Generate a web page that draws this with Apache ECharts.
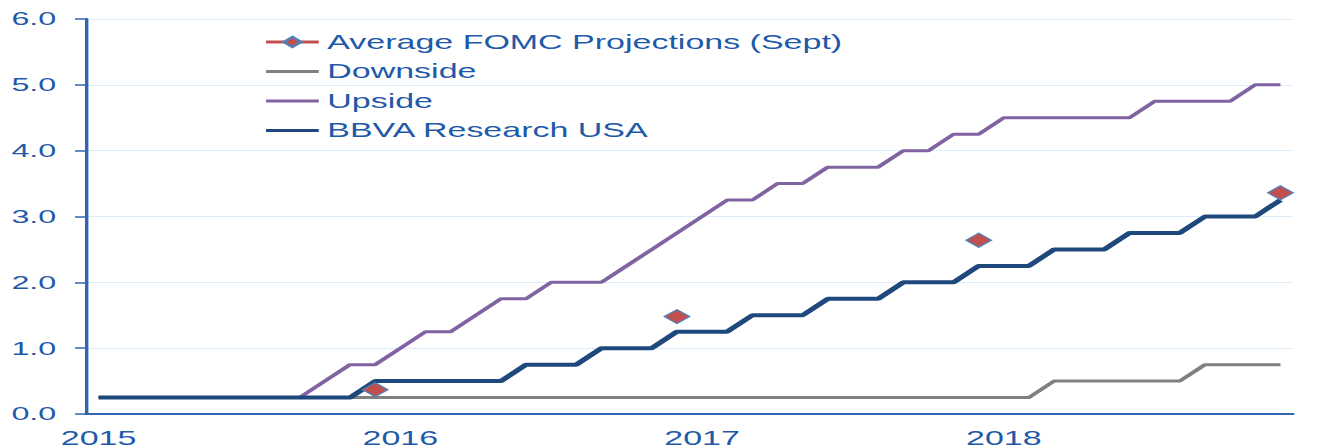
<!DOCTYPE html>
<html>
<head>
<meta charset="utf-8">
<script src="https://cdn.jsdelivr.net/npm/echarts@6/dist/echarts.min.js"></script>
<style>
  html, body { margin: 0; padding: 0; background: #fff; overflow: hidden; }
  /* the original picture is stretched sideways, so the chart is drawn narrow and widened */
  #chart { width: 787px; height: 448px; transform: scaleX(1.7); transform-origin: 0 0; }
</style>
</head>
<body>
<div id="chart"></div>
<script>
// monthly, Jan 2015 .. Dec 2018
const months = [];
for (let y = 2015; y <= 2018; y++) {
  for (let m = 1; m <= 12; m++) months.push(y + '-' + (m < 10 ? '0' + m : m));
}

const bbva = [
  0.25, 0.25, 0.25, 0.25, 0.25, 0.25, 0.25, 0.25, 0.25, 0.25, 0.25, 0.5,
  0.5, 0.5, 0.5, 0.5, 0.5, 0.75, 0.75, 0.75, 1.0, 1.0, 1.0, 1.25,
  1.25, 1.25, 1.5, 1.5, 1.5, 1.75, 1.75, 1.75, 2.0, 2.0, 2.0, 2.25,
  2.25, 2.25, 2.5, 2.5, 2.5, 2.75, 2.75, 2.75, 3.0, 3.0, 3.0, 3.25
];
const upside = [
  0.25, 0.25, 0.25, 0.25, 0.25, 0.25, 0.25, 0.25, 0.25, 0.5, 0.75, 0.75,
  1.0, 1.25, 1.25, 1.5, 1.75, 1.75, 2.0, 2.0, 2.0, 2.25, 2.5, 2.75,
  3.0, 3.25, 3.25, 3.5, 3.5, 3.75, 3.75, 3.75, 4.0, 4.0, 4.25, 4.25,
  4.5, 4.5, 4.5, 4.5, 4.5, 4.5, 4.75, 4.75, 4.75, 4.75, 5.0, 5.0
];
const downside = [
  0.25, 0.25, 0.25, 0.25, 0.25, 0.25, 0.25, 0.25, 0.25, 0.25, 0.25, 0.25,
  0.25, 0.25, 0.25, 0.25, 0.25, 0.25, 0.25, 0.25, 0.25, 0.25, 0.25, 0.25,
  0.25, 0.25, 0.25, 0.25, 0.25, 0.25, 0.25, 0.25, 0.25, 0.25, 0.25, 0.25,
  0.25, 0.25, 0.5, 0.5, 0.5, 0.5, 0.5, 0.5, 0.75, 0.75, 0.75, 0.75
];
// FOMC average projection, one point at each year end
const fomcMonths = ['2015-12', '2016-12', '2017-12', '2018-12'];
const fomcValues = [0.37, 1.48, 2.64, 3.36];

const fomc = months.map(m => {
  const i = fomcMonths.indexOf(m);
  return i < 0 ? null : fomcValues[i];
});

const blue = '#1F5AA8';
const axisBlue = '#2F66B2';
const font = "'Liberation Sans', Arial, sans-serif";

const chart = echarts.init(document.getElementById('chart'), null, { renderer: 'svg' });
chart.setOption({
  animation: false,
  backgroundColor: '#fff',
  grid: { left: 50.6, right: 26.4, top: 19, bottom: 34 },
  legend: {
    orient: 'vertical',
    left: 155,
    top: 32,
    padding: 0,
    itemWidth: 31,
    itemHeight: 13,
    itemGap: 9.5,
    textStyle: { color: blue, fontSize: 20, fontFamily: font, lineHeight: 20 },
    data: [
      { name: 'Average FOMC Projections (Sept)', lineStyle: { width: 3 } },
      { name: 'Downside', itemStyle: { opacity: 0 }, lineStyle: { width: 3 } },
      { name: 'Upside', itemStyle: { opacity: 0 }, lineStyle: { width: 3 } },
      { name: 'BBVA Research USA', itemStyle: { opacity: 0 }, lineStyle: { width: 3 } }
    ]
  },
  xAxis: {
    type: 'category',
    data: months,
    boundaryGap: true,
    axisLine: { lineStyle: { color: axisBlue, width: 2 } },
    axisTick: { interval: 11, length: 7, lineStyle: { color: axisBlue, width: 2 } },
    axisLabel: {
      interval: 11, margin: 14, color: blue, fontSize: 20, fontFamily: font,
      formatter: v => v.slice(0, 4)
    },
    splitLine: { show: false }
  },
  yAxis: {
    type: 'value',
    min: 0, max: 6, interval: 1,
    axisLine: { show: true, lineStyle: { color: axisBlue, width: 2 } },
    axisTick: { show: true, length: 6.5, lineStyle: { color: axisBlue, width: 1.5 } },
    axisLabel: {
      margin: 17.5, color: blue, fontSize: 19, fontFamily: font,
      formatter: v => v.toFixed(1)
    },
    splitLine: { lineStyle: { color: '#DCEDF9', width: 1.2 } }
  },
  series: [
    {
      name: 'Average FOMC Projections (Sept)',
      type: 'line',
      data: fomc,
      connectNulls: false,
      symbol: 'diamond',
      symbolSize: [15, 14],
      showAllSymbol: true,
      lineStyle: { color: '#C0504D', width: 2.5 },
      itemStyle: { color: '#C0504D', borderColor: '#4F81BD', borderWidth: 1 },
      z: 5
    },
    {
      name: 'Downside',
      type: 'line',
      data: downside,
      symbol: 'none',
      lineStyle: { color: '#808080', width: 3 },
      itemStyle: { color: '#808080' }
    },
    {
      name: 'Upside',
      type: 'line',
      data: upside,
      symbol: 'none',
      lineStyle: { color: '#8064A2', width: 3 },
      itemStyle: { color: '#8064A2' }
    },
    {
      name: 'BBVA Research USA',
      type: 'line',
      data: bbva,
      symbol: 'none',
      lineStyle: { color: '#1F497D', width: 4 },
      itemStyle: { color: '#1F497D' }
    }
  ]
});
</script>
</body>
</html>
